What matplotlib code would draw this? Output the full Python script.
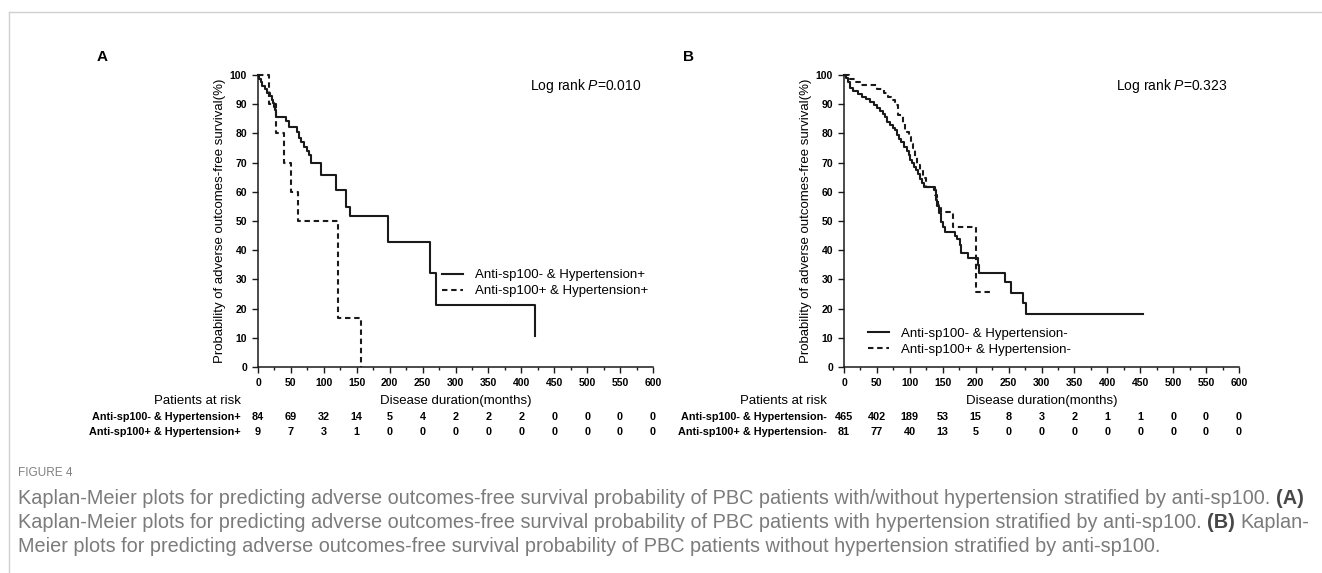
import matplotlib
matplotlib.use('Agg')
import matplotlib.pyplot as plt
from matplotlib import font_manager
from matplotlib.lines import Line2D
from matplotlib.ticker import MultipleLocator

# ---- data ----
# panel A: hypertension+
a_neg_t = [0, 2, 4, 6, 10, 14, 18, 21, 23, 25, 26, 27, 42, 47, 59, 62, 66, 70, 74, 77, 80,
           95, 119, 134, 139, 197, 262, 271, 421]
a_neg_s = [100, 98.8, 97.6, 96.4, 95.2, 94.0, 92.8, 91.6, 90.4, 89.2, 88.0, 85.7, 84.2, 82.3,
           80.5, 78.5, 77.0, 75.5, 74.0, 72.5, 69.8, 65.8, 60.6, 54.9, 51.8, 42.9, 32.3, 21.4, 10.7]
a_pos_t = [0, 17, 27, 40, 50, 60, 122, 156]
a_pos_s = [100, 90, 80, 70, 60, 50, 16.7, 0]

# panel B: hypertension-
b_neg_t = [0, 3, 6, 9, 14, 21, 28, 34, 40, 46, 50, 55, 59, 62, 66, 70, 74, 77, 80, 84, 87, 91,
           95, 98, 101, 104, 107, 110, 113, 116, 119, 122, 137, 140, 142, 144, 147, 150, 153,
           168, 172, 176, 178, 188, 204, 205, 245, 253, 272, 276, 454]
b_neg_s = [100, 99, 97.5, 95.5, 94.5, 93.5, 92.5, 91.8, 90.8, 89.8, 88.8, 87.8, 86.8, 85.5,
           84.0, 83.0, 82.0, 81.0, 79.5, 78.0, 77.0, 75.5, 74.0, 72.5, 71.0, 69.8, 68.5, 67.3,
           66.0, 64.5, 63.0, 61.8, 60.5, 57.2, 55.0, 52.7, 49.8, 48.0, 46.3, 45.0, 44.0, 41.8,
           39.0, 37.2, 35.0, 32.1, 29.0, 25.2, 21.8, 18.0, 18.0]
b_pos_t = [0, 8, 16, 24, 50, 60, 67, 72, 77, 82, 90, 92, 98, 102, 105, 108, 111, 116, 120, 125,
           138, 141, 143, 148, 166, 200, 201, 224]
b_pos_s = [100, 98.8, 97.5, 96.5, 95.2, 93.8, 92.6, 91.5, 89.7, 86.3, 83.5, 80.6, 78.9, 76.2,
           74.9, 72.0, 69.2, 67.5, 64.7, 61.8, 59.0, 57.7, 55.5, 53.0, 48.0, 38.0, 25.8, 25.8]

x_ticks = [0, 50, 100, 150, 200, 250, 300, 350, 400, 450, 500, 550, 600]
y_ticks = [0, 10, 20, 30, 40, 50, 60, 70, 80, 90, 100]

a_labels = ['Anti-sp100- & Hypertension+', 'Anti-sp100+ & Hypertension+']
b_labels = ['Anti-sp100- & Hypertension-', 'Anti-sp100+ & Hypertension-']
a_risk = [[84, 69, 32, 14, 5, 4, 2, 2, 2, 0, 0, 0, 0],
          [9, 7, 3, 1, 0, 0, 0, 0, 0, 0, 0, 0, 0]]
b_risk = [[465, 402, 189, 53, 15, 8, 3, 2, 1, 1, 0, 0, 0],
          [81, 77, 40, 13, 5, 0, 0, 0, 0, 0, 0, 0, 0]]
a_p = '0.010'
b_p = '0.323'

caption_lines = [
    [("Kaplan-Meier plots for predicting adverse outcomes-free survival probability of PBC patients "
      "with/without hypertension stratified by anti-sp100.", False), ("(A)", True)],
    [("Kaplan-Meier plots for predicting adverse outcomes-free survival probability of PBC patients "
      "with hypertension stratified by anti-sp100.", False), ("(B)", True), ("Kaplan-", False)],
    [("Meier plots for predicting adverse outcomes-free survival probability of PBC patients "
      "without hypertension stratified by anti-sp100.", False)],
]

# ---- fonts ----
names = {f.name for f in font_manager.fontManager.ttflist}
main = 'Liberation Sans' if 'Liberation Sans' in names else 'DejaVu Sans'
narrow = 'Liberation Sans Narrow' if 'Liberation Sans Narrow' in names else main
plt.rcParams['font.family'] = [main, 'DejaVu Sans']
plt.rcParams['mathtext.fontset'] = 'custom'
plt.rcParams['mathtext.rm'] = main
plt.rcParams['mathtext.it'] = main + ':italic'

W, H = 1322, 573
fig = plt.figure(figsize=(W / 100, H / 100), dpi=100)

# frame lines of the page
fig.add_artist(Line2D([9 / W, 1], [1 - 12 / H, 1 - 12 / H], color='#d0d0d0', lw=1,
                      transform=fig.transFigure))
fig.add_artist(Line2D([9 / W, 9 / W], [0, 1 - 12 / H], color='#d0d0d0', lw=1,
                      transform=fig.transFigure))

ink = '#1a1a1a'
dash = (0, (2.6, 1.8))


def km_panel(left_px, letter, letter_px, neg_t, neg_s, pos_t, pos_s, labels, risk, pval,
             leg_anchor):
    ax = fig.add_axes([left_px / W, 1 - 367 / H, 395 / W, 292 / H])
    ax.step(neg_t, neg_s, where='post', color=ink, lw=1.5, label=labels[0], clip_on=False)
    ax.step(pos_t, pos_s, where='post', color=ink, lw=1.5, ls=dash, label=labels[1],
            clip_on=False)
    ax.set_xlim(0, 600)
    ax.set_ylim(0, 100)
    for s in ['top', 'right']:
        ax.spines[s].set_visible(False)
    for s in ['left', 'bottom']:
        ax.spines[s].set_linewidth(1.1)
        ax.spines[s].set_color(ink)
    ax.set_xticks(x_ticks)
    ax.set_xticklabels([str(v) for v in x_ticks], fontsize=7.5, fontweight='bold', family=narrow)
    ax.set_yticks(y_ticks)
    ax.set_yticklabels([str(v) for v in y_ticks], fontsize=7.5, fontweight='bold', family=narrow)
    ax.xaxis.set_minor_locator(MultipleLocator(25))
    ax.tick_params(which='major', length=4.5, width=1.0, color=ink, pad=3.5)
    ax.tick_params(which='minor', length=2.5, width=1.0, color=ink)
    ax.set_ylabel('Probability of adverse outcomes-free survival(%)', fontsize=9.5)
    ax.yaxis.set_label_coords(-0.082, 0.5)

    ax.text(0.83, 0.962, r'Log rank $\mathit{P}$=' + pval, transform=ax.transAxes,
            ha='center', va='center', fontsize=10)

    ax.legend(loc='upper left', bbox_to_anchor=leg_anchor, frameon=False, fontsize=9.5,
              handlelength=1.6, handletextpad=0.9, labelspacing=0.3, borderpad=0,
              borderaxespad=0)

    fig.text(letter_px / W, 1 - 57 / H, letter, fontsize=11, fontweight='bold',
             ha='center', va='center')

    tr = ax.get_xaxis_transform()
    lab_x = -0.043
    ax.text(lab_x, -0.1164, 'Patients at risk', transform=ax.transAxes, ha='right',
            va='center', fontsize=9.5)
    ax.text(0.5, -0.1164, 'Disease duration(months)', transform=ax.transAxes, ha='center',
            va='center', fontsize=9.5)
    for row, (lab, vals) in enumerate(zip(labels, risk)):
        yy = -0.171 - 0.0515 * row
        ax.text(lab_x, yy, lab, transform=ax.transAxes, ha='right', va='center',
                fontsize=7.8, fontweight='bold', family=narrow)
        for xv, v in zip(x_ticks, vals):
            ax.text(xv, yy, str(v), transform=tr, ha='center', va='center',
                    fontsize=7.8, fontweight='bold', family=narrow)
    return ax


km_panel(258, 'A', 102, a_neg_t, a_neg_s, a_pos_t, a_pos_s, a_labels, a_risk, a_p,
         (0.465, 0.336))
km_panel(844, 'B', 688, b_neg_t, b_neg_s, b_pos_t, b_pos_s, b_labels, b_risk, b_p,
         (0.06, 0.136))

# ---- caption ----
renderer = fig.canvas.get_renderer()
cap_color = '#7b7b7b'
cap_bold = '#474747'


def width_of(txt, size, bold):
    t = fig.text(0, 0, txt, fontsize=size, family=narrow,
                 fontweight='bold' if bold else 'normal')
    w = t.get_window_extent(renderer).width
    t.remove()
    return w


base = 12
first = " ".join(p for p, _ in caption_lines[0])
w0 = width_of(first, base, False)
cap_size = base * (1282 / w0)
space = width_of('a a', cap_size, False) - width_of('aa', cap_size, False)

fig.text(18 / W, 1 - 471 / H, 'FIGURE 4', fontsize=8.5, family=narrow, color='#808080',
         va='center_baseline')
for i, pieces in enumerate(caption_lines):
    y = 1 - (496 + 24 * i) / H
    x = 18
    for txt, bold in pieces:
        fig.text(x / W, y, txt, fontsize=cap_size, family=narrow,
                 fontweight='bold' if bold else 'normal',
                 color=cap_bold if bold else cap_color, va='center_baseline')
        x += width_of(txt, cap_size, bold) + space

fig.savefig('out.png', dpi=100)
